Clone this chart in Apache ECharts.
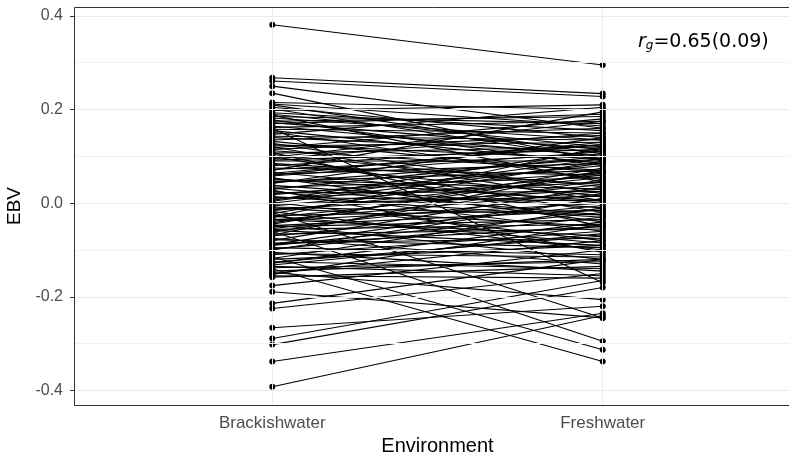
<!DOCTYPE html>
<html><head><meta charset="utf-8">
<script src="https://cdn.jsdelivr.net/npm/echarts@6/dist/echarts.min.js"></script>
<style>html,body{margin:0;padding:0;background:#fff}#c{width:789px;height:456px}</style>
</head><body><div id="c"></div>
<script>
const categories = ["Brackishwater", "Freshwater"];
const yTicks = [-0.4, -0.2, 0.0, 0.2, 0.4];
const yMinorGrid = [-0.3, -0.1, 0.1, 0.3];
// EBV per individual in each environment (paired)
const brackish = [
 0.381, 0.268, 0.261, 0.250, 0.235,
 0.215, 0.205, 0.198, 0.190, 0.185, 0.178, 0.170, 0.165, 0.158, 0.152,
 0.147, 0.140, 0.135, 0.128, 0.122, 0.118, 0.112, 0.107, 0.100, 0.095,
 0.090, 0.085, 0.080, 0.075, 0.070, 0.066, 0.062, 0.058, 0.054, 0.050,
 0.046, 0.042, 0.038, 0.034, 0.030, 0.026, 0.022, 0.018, 0.014, 0.010,
 0.006, 0.002, -0.002, -0.006, -0.010, -0.014, -0.018, -0.022, -0.026, -0.030,
 -0.034, -0.038, -0.042, -0.046, -0.050, -0.054, -0.058, -0.062, -0.066, -0.070,
 -0.075, -0.080, -0.085, -0.090, -0.095, -0.100, -0.105, -0.110, -0.115, -0.120,
 -0.128, -0.135, -0.140, -0.145, -0.150, -0.155, -0.060, -0.020, 0.160, 0.210,
 0.175, 0.120, 0.060, 0.004, -0.045, -0.088, -0.132, 0.188, 0.098, 0.028,
 0.212, 0.201, 0.193, 0.182, 0.172, 0.162, 0.155, 0.143, 0.132, 0.125,
 0.115, 0.104, 0.092, 0.083, 0.072, 0.064, 0.052, 0.044, 0.032, 0.020,
 0.012, 0.000, -0.008, -0.016, -0.028, -0.036, -0.048, -0.056, -0.068, -0.078,
 -0.088, -0.098, -0.108, -0.118, -0.126, -0.138, -0.152, -0.158, 0.108, -0.030,
 -0.125, -0.148, -0.176, -0.189, -0.214, -0.225, -0.266, -0.289, -0.302, -0.338, -0.392
];
const fresh = [
 0.295, 0.234, 0.228, 0.160, 0.090,
 0.200, 0.140, 0.210, 0.120, 0.170, 0.080, 0.190, 0.100, 0.150, 0.050,
 0.205, 0.110, 0.160, 0.020, 0.130, 0.180, 0.070, 0.120, -0.020, 0.150,
 0.090, 0.040, 0.125, 0.060, 0.195, 0.000, 0.085, 0.110, -0.040, 0.030,
 0.070, 0.140, -0.010, 0.055, 0.100, -0.060, 0.025, 0.080, -0.030, 0.045,
 0.115, -0.080, 0.015, 0.060, -0.050, 0.030, -0.100, 0.090, -0.015, 0.040,
 -0.070, 0.000, 0.065, -0.120, -0.035, 0.020, -0.090, 0.050, -0.055, -0.005,
 -0.130, 0.035, -0.075, -0.020, -0.110, 0.010, -0.145, -0.060, -0.313, -0.090,
 -0.040, -0.155, -0.338, -0.120, -0.080, -0.160, -0.295, -0.245, -0.170, 0.105,
 0.185, 0.005, 0.130, 0.095, 0.075, 0.010, -0.065, 0.045, 0.175, -0.105,
 0.165, 0.095, 0.155, 0.135, 0.115, 0.175, 0.085, 0.135, 0.065, 0.095,
 0.145, 0.035, 0.115, 0.015, 0.105, 0.125, 0.005, 0.095, -0.025, 0.065,
 0.005, 0.085, -0.025, 0.055, -0.085, 0.025, -0.015, -0.045, 0.070, -0.095,
 -0.050, -0.030, -0.115, -0.010, -0.070, -0.125, -0.045, -0.135, -0.050, 0.120,
 -0.140, -0.206, -0.100, -0.245, -0.120, -0.150, -0.220, -0.165, -0.180, -0.235, -0.240
];
const annotation = "0.65(0.09)";

const pos = [1, 2];
const series = [];
// background grid lines
series.push({
  type: 'line', data: [], z: 1, silent: true,
  markLine: {
    silent: true, symbol: 'none', label: {show: false}, animation: false,
    data: [
      ...yTicks.map(v => ({yAxis: v, lineStyle: {color: '#ebebeb', width: 1, type: 'solid'}})),
      ...yMinorGrid.map(v => ({yAxis: v, lineStyle: {color: '#f2f2f2', width: 1, type: 'solid'}})),
      ...pos.map(v => ({xAxis: v, lineStyle: {color: '#ebebeb', width: 1, type: 'solid'}}))
    ]
  }
});
for (let i = 0; i < brackish.length; i++) {
  series.push({
    type: 'line', z: 3, silent: true,
    data: [[pos[0], brackish[i]], [pos[1], fresh[i]]],
    symbol: 'circle', symbolSize: 6,
    lineStyle: {color: '#000', width: 1.1},
    itemStyle: {color: '#000'}
  });
}

const chart = echarts.init(document.getElementById('c'), null, {renderer: 'canvas'});
chart.setOption({
  animation: false,
  backgroundColor: '#fff',
  grid: {left: 74, top: 7, width: 727, height: 398, show: false, containLabel: false, outerBoundsMode: 'none'},
  xAxis: {
    type: 'value', min: 0.4, max: 2.6,
    name: 'Environment', nameLocation: 'middle', nameGap: 22,
    nameTextStyle: {color: '#000', fontSize: 20, fontFamily: 'Liberation Sans'},
    axisLine: {show: false},
    splitLine: {show: false},
    axisTick: {show: true, length: 4, lineStyle: {color: '#333'}, customValues: pos},
    axisLabel: {customValues: pos, color: '#4d4d4d', fontSize: 17, fontFamily: 'Liberation Sans', margin: 10,
      formatter: v => categories[Math.round(v) - 1] || ''}
  },
  yAxis: {
    type: 'value', min: -0.431, max: 0.419,
    name: 'EBV', nameLocation: 'middle', nameGap: 44, nameRotate: 90,
    nameTextStyle: {color: '#000', fontSize: 19, fontFamily: 'Liberation Sans'},
    axisLine: {show: false},
    splitLine: {show: false},
    axisTick: {show: true, length: 4, lineStyle: {color: '#333'}, customValues: yTicks},
    axisLabel: {customValues: yTicks, color: '#4d4d4d', fontSize: 16, fontFamily: 'Liberation Sans', margin: 11,
      formatter: v => v.toFixed(1)}
  },
  graphic: [{
    type: 'rect', z: 20, silent: true,
    shape: {x: 74.5, y: 7.5, width: 727, height: 398},
    style: {fill: 'none', stroke: '#333333', lineWidth: 1}
  }, {
    type: 'text', left: 638, top: 33, z: 10,
    style: {
      text: '{r|r}{g|g}{n|=' + annotation + '}',
      rich: {
        r: {fontFamily: 'DejaVu Sans', fontStyle: 'italic', fontSize: 19, fill: '#000'},
        g: {fontFamily: 'DejaVu Sans', fontStyle: 'italic', fontSize: 12, fill: '#000', verticalAlign: 'bottom', padding: [7, 0, 0, 0]},
        n: {fontFamily: 'DejaVu Sans', fontSize: 19, fill: '#000'}
      }
    }
  }],
  series: series
});
</script></body></html>
